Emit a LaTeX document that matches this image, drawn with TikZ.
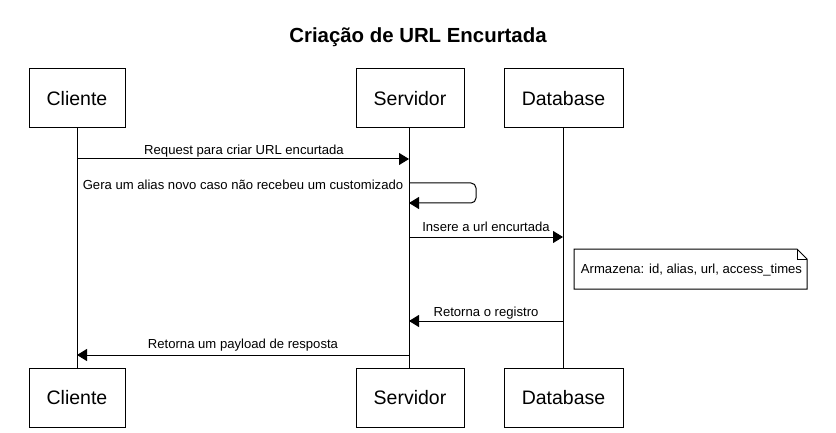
\documentclass[tikz,border=0pt]{standalone}
\usepackage{fontspec}
\setmainfont{Liberation Sans}
\usetikzlibrary{arrows.meta}
\begin{document}
\begin{tikzpicture}[x=1pt,y=-1pt,
  actor/.style={draw,line width=1pt,minimum height=59pt,inner sep=0pt,font=\fontsize{19.5}{22}\selectfont},
  msg/.style={-{Triangle[length=10pt,width=12pt]},line width=1pt},
  life/.style={line width=1pt},
  lbl/.style={font=\fontsize{13.1}{15}\selectfont,inner sep=0pt},
  notebox/.style={draw,line width=1pt,fill=white}]
\useasboundingbox (0,0) rectangle (836,433);
\node[font=\bfseries\fontsize{20.4}{24}\selectfont] (title) at (418,37) {Criação de URL Encurtada};
% top actors
\node[actor,minimum width=96pt] (c1) at (77,98.5) {Cliente};
\node[actor,minimum width=108pt] (s1) at (410,98.5) {Servidor};
\node[actor,minimum width=119pt] (d1) at (563.5,98.5) {Database};
% bottom actors
\node[actor,minimum width=96pt] (c2) at (77,398) {Cliente};
\node[actor,minimum width=108pt] (s2) at (410,398) {Servidor};
\node[actor,minimum width=119pt] (d2) at (563.5,398) {Database};
% lifelines
\coordinate (cl1) at (77,128.5); \coordinate (cl2) at (77,368.5);
\coordinate (sl1) at (409,128.5); \coordinate (sl2) at (409,368.5);
\coordinate (dl1) at (563,128.5); \coordinate (dl2) at (563,368.5);
\draw[life] (cl1) -- (cl2);
\draw[life] (sl1) -- (sl2);
\draw[life] (dl1) -- (dl2);
% messages
\coordinate (m1a) at (77,159); \coordinate (m1b) at (409,159);
\draw[msg] (m1a) -- (m1b);
\node[lbl] (l1) at (244,151) {Request para criar URL encurtada};
\coordinate (m2a) at (409,183); \coordinate (m2b) at (409,203);
\draw[msg,rounded corners=5pt] (m2a) -- (476,183) -- (476,203) -- (m2b);
\node[lbl] (l2) at (243,185) {Gera um alias novo caso não recebeu um customizado};
\coordinate (m3a) at (409,237); \coordinate (m3b) at (563,237);
\draw[msg] (m3a) -- (m3b);
\node[lbl] (l3) at (486,227) {Insere a url encurtada};
% note
\draw[notebox] (574,249) -- (797,249) -- (807,259) -- (807,289) -- (574,289) -- cycle;
\draw[line width=1pt] (797,249) -- (797,259) -- (807,259);
\node[lbl] (note) at (691.5,270) {Armazena: id, alias, url, access\_times};
\coordinate (m4a) at (563,321); \coordinate (m4b) at (409,321);
\draw[msg] (m4a) -- (m4b);
\node[lbl] (l4) at (486,313) {Retorna o registro};
\coordinate (m5a) at (409,355); \coordinate (m5b) at (77,355);
\draw[msg] (m5a) -- (m5b);
\node[lbl] (l5) at (243,345) {Retorna um payload de resposta};
\end{tikzpicture}
\end{document}
